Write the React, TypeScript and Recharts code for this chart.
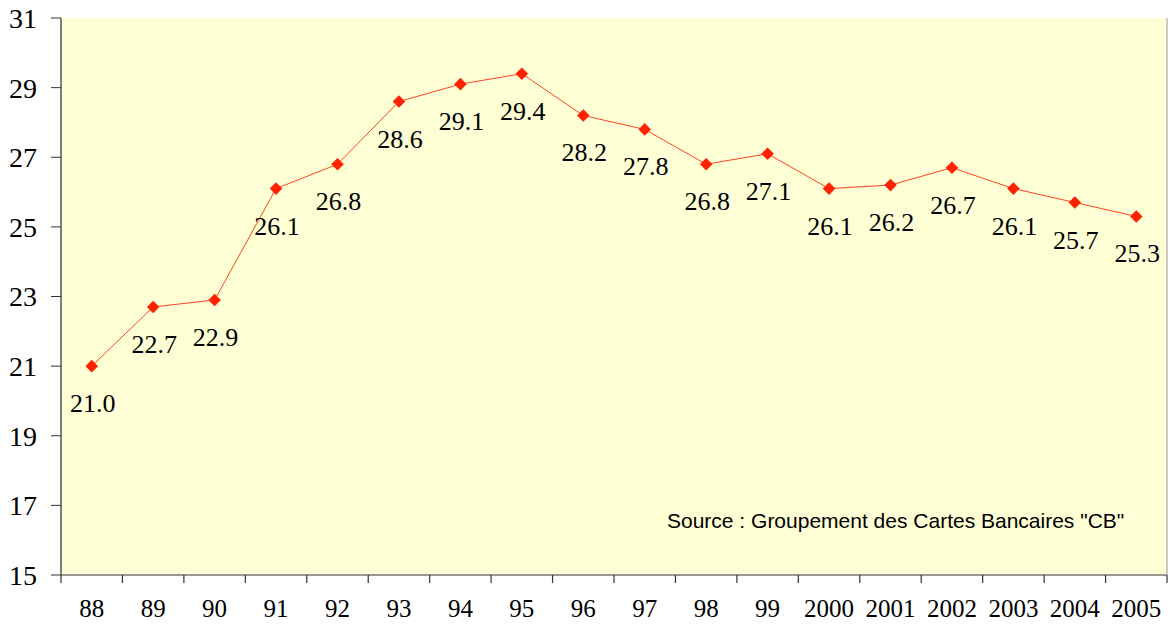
import React from 'react';
import { ComposedChart, Line, XAxis, YAxis, CartesianGrid, LabelList, ReferenceLine } from 'recharts';

const years = ['88', '89', '90', '91', '92', '93', '94', '95', '96', '97', '98', '99', '2000', '2001', '2002', '2003', '2004', '2005'];
const values = [21.0, 22.7, 22.9, 26.1, 26.8, 28.6, 29.1, 29.4, 28.2, 27.8, 26.8, 27.1, 26.1, 26.2, 26.7, 26.1, 25.7, 25.3];
const yTicks = [15, 17, 19, 21, 23, 25, 27, 29, 31];

const data = years.map((year, i) => ({ year, value: values[i] }));

const W = 1174;
const H = 631;
const SERIF = '"Liberation Serif", "Times New Roman", serif';

const Diamond = (props: any) => {
  const { cx, cy } = props;
  if (cx == null || cy == null) return null;
  const r = 6.3;
  return <path d={`M${cx},${cy - r}L${cx + r},${cy}L${cx},${cy + r}L${cx - r},${cy}Z`} fill="#FF2200" stroke="none" />;
};

const XTick = (props: any) => {
  const { x, y, payload, index } = props;
  const half = payload?.offset ?? 30.7;
  return (
    <g>
      <line x1={x - half} y1={y} x2={x - half} y2={y + 8} stroke="#333" strokeWidth={1.2} />
      {index === years.length - 1 && (
        <line x1={x + half} y1={y} x2={x + half} y2={y + 8} stroke="#333" strokeWidth={1.2} />
      )}
      <text x={x} y={y + 42} textAnchor="middle" fontFamily={SERIF} fontSize={25} fill="#000">
        {payload.value}
      </text>
    </g>
  );
};

const ValueLabel = (props: any) => {
  const { x, y, value } = props;
  return (
    <text x={x + 1} y={y + 46} textAnchor="middle" fontFamily={SERIF} fontSize={26} fill="#000">
      {Number(value).toFixed(1)}
    </text>
  );
};

export default function App() {
  return (
    <div style={{ position: 'absolute', left: 0, top: 0, width: W, height: H, background: '#fff' }}>
      <ComposedChart width={W} height={H} data={data} margin={{ top: 18, right: 6, bottom: 0, left: 0 }}>
        <CartesianGrid
          vertical={false}
          fill="#FFFFD6"
          stroke="#000"
          strokeDasharray="1.5 3.2"
          horizontalValues={[17, 19, 21, 23, 25, 27, 29]}
        />
        <ReferenceLine y={31} stroke="#999" strokeWidth={1} />
        <XAxis
          dataKey="year"
          scale="band"
          height={56}
          interval={0}
          axisLine={{ stroke: '#333', strokeWidth: 1.2 }}
          tickLine={false}
          tickSize={0}
          tickMargin={0}
          tick={<XTick />}
        />
        <YAxis
          yAxisId="left"
          domain={[15, 31]}
          ticks={yTicks}
          width={61}
          interval={0}
          axisLine={{ stroke: '#555', strokeWidth: 1.5 }}
          tickLine={{ stroke: '#333' }}
          tickSize={10}
          tickMargin={14}
          tick={{ fontFamily: SERIF, fontSize: 28, fill: '#000' }}
        />
        <YAxis
          yAxisId="right"
          orientation="right"
          domain={[15, 31]}
          width={1}
          tick={false}
          tickLine={false}
          axisLine={{ stroke: '#999' }}
        />
        <Line
          yAxisId="left"
          dataKey="value"
          type="linear"
          stroke="#FF4422"
          strokeWidth={1}
          dot={<Diamond />}
          activeDot={false}
          isAnimationActive={false}
        >
          <LabelList dataKey="value" content={<ValueLabel />} />
        </Line>
      </ComposedChart>
      <div
        style={{
          position: 'absolute',
          left: 667,
          top: 509,
          fontFamily: '"Liberation Sans", Arial, sans-serif',
          fontSize: 21,
          lineHeight: '24px',
          color: '#000',
          whiteSpace: 'nowrap',
        }}
      >
        Source : Groupement des Cartes Bancaires "CB"
      </div>
    </div>
  );
}
